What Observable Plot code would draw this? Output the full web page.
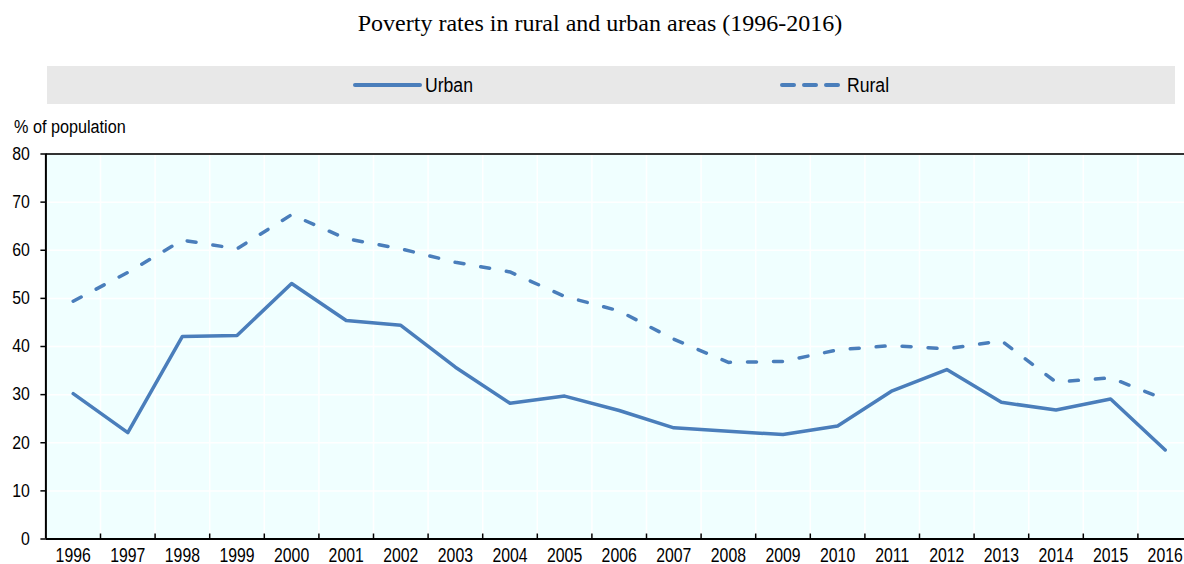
<!DOCTYPE html>
<html>
<head>
<meta charset="utf-8">
<script src="https://cdn.jsdelivr.net/npm/d3@7"></script>
<script src="https://cdn.jsdelivr.net/npm/@observablehq/plot@0.6"></script>
<style>
  html, body { margin: 0; padding: 0; background: #fff; width: 1184px; height: 564px; overflow: hidden; }
  body { position: relative; font-family: "Liberation Sans", Arial, sans-serif; }
  #title { position: absolute; left: 0; top: 10px; width: 1200px; text-align: center; font-family: "Liberation Serif", "Times New Roman", serif; font-size: 24px; color: #000; }
  #legend { position: absolute; left: 47px; top: 66px; width: 1128px; height: 38px; background: #e8e8e8; }
  .li { position: absolute; top: 0; height: 38px; display: flex; align-items: center; font-size: 20px; color: #000; }
  .li svg { margin-right: 3px; }
  .sq { display: inline-block; transform-origin: left center; }
  #ylabel { position: absolute; left: 14px; top: 117px; font-size: 18px; color: #000; }
  #chart { position: absolute; left: 0; top: 110px; }
</style>
</head>
<body>
<div id="title">Poverty rates in rural and urban areas (1996-2016)</div>
<div id="legend"></div>
<div id="ylabel"><span class="sq" style="transform: scaleX(0.9)">% of population</span></div>
<div id="chart"></div>
<script>
const years = [1996,1997,1998,1999,2000,2001,2002,2003,2004,2005,2006,2007,2008,2009,2010,2011,2012,2013,2014,2015,2016];
const urban = [30.2,22.1,42.1,42.3,53.1,45.4,44.4,35.7,28.2,29.7,26.7,23.1,22.4,21.7,23.5,30.8,35.2,28.4,26.8,29.1,18.5];
const rural = [49.4,55.4,62.1,60.3,67.4,62.4,60.3,57.5,55.5,50.4,47.4,41.5,36.7,36.9,39.3,40.2,39.5,41.2,32.6,33.5,29.0];
const seriesNames = ["Urban", "Rural"];
const yTicks = [0,10,20,30,40,50,60,70,80];

const color = "#4a7ebb";
const dashes = {Urban: null, Rural: "9,17"};

const rows = [];
years.forEach((yr, i) => {
  rows.push({year: yr, value: urban[i], series: "Urban"});
  rows.push({year: yr, value: rural[i], series: "Rural"});
});
const boundaries = years.slice(0, -1).map(y => y + 0.5);

// Legend
const legend = document.getElementById("legend");
const legendCfg = {
  Urban: {left: 306, len: 65, dash: ""},
  Rural: {left: 733, len: 60, dash: 'stroke-dasharray="12,10"'}
};
seriesNames.forEach(name => {
  const c = legendCfg[name];
  const d = document.createElement("div");
  d.className = "li";
  d.style.left = c.left + "px";
  d.innerHTML = `<svg width="${c.len + 4}" height="10"><line x1="2" y1="5" x2="${c.len + 2}" y2="5" stroke="${color}" stroke-width="4" stroke-linecap="round" ${c.dash}/></svg><span class="sq" style="transform: scaleX(0.88)">${name}</span>`;
  legend.appendChild(d);
});

const chart = Plot.plot({
  width: 1184,
  height: 454,
  marginLeft: 45.4,
  marginRight: 0,
  marginTop: 43.5,
  marginBottom: 25.5,
  style: {fontFamily: '"Liberation Sans", Arial, sans-serif', fontSize: "20px", color: "#000", background: "transparent", overflow: "visible"},
  x: {domain: [1995.5, 2016.5], range: [45.4, 1192]},
  y: {domain: [0, 80], range: [428.5, 43.5]},
  marks: [
    Plot.frame({fill: "#f0ffff", stroke: null}),
    Plot.gridY({ticks: yTicks.slice(1, -1), stroke: "#fff", strokeOpacity: 1, strokeWidth: 1.5}),
    Plot.gridX({ticks: boundaries, stroke: "#fff", strokeOpacity: 1, strokeWidth: 1.5}),
    Plot.ruleY([80], {stroke: "#333", strokeWidth: 2}),
    Plot.ruleY([0], {stroke: "#000", strokeWidth: 2}),
    Plot.ruleX([1995.5], {stroke: "#000", strokeWidth: 2}),
    Plot.axisY({ticks: yTicks, tickSize: 5, tickPadding: 11, label: null, fontSize: 18, stroke: "#000", strokeWidth: 1.5, className: "yax"}),
    Plot.axisX({ticks: boundaries, tickSize: 5, dy: -5, tickFormat: () => "", label: null, stroke: "#000", strokeWidth: 1.5}),
    Plot.axisX({ticks: years, tickSize: 0, tickPadding: 9, tickFormat: d => String(d), label: null, fontSize: 20, className: "xax"}),
    Plot.line(rows.filter(r => r.series === "Urban"), {x: "year", y: "value", stroke: color, strokeWidth: 3.5, strokeLinejoin: "round"}),
    Plot.line(rows.filter(r => r.series === "Rural"), {x: "year", y: "value", stroke: color, strokeWidth: 3.5, strokeDasharray: dashes.Rural, strokeLinecap: "round", strokeLinejoin: "round"})
  ]
});
document.getElementById("chart").appendChild(chart);

// Narrow the sans-serif labels (reference uses a condensed face)
function squeeze(sel, k) {
  chart.querySelectorAll(sel).forEach(t => {
    const w = t.getComputedTextLength();
    if (w > 0) {
      t.setAttribute("textLength", (w * k).toFixed(2));
      t.setAttribute("lengthAdjust", "spacingAndGlyphs");
    }
  });
}
squeeze(".xax text", 0.79);
squeeze(".yax text", 0.88);
</script>
</body>
</html>
